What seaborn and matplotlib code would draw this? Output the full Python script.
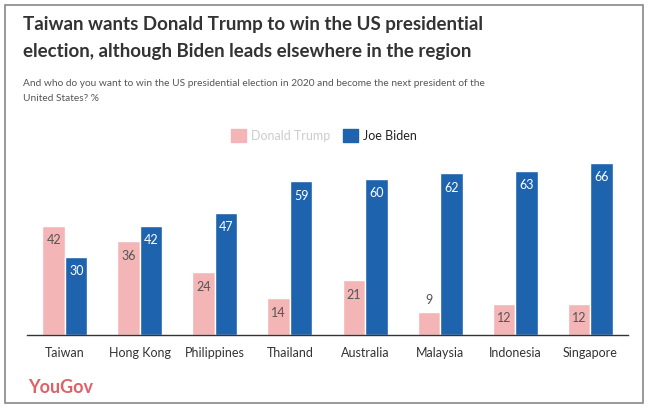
import pandas as pd
import seaborn as sns
import matplotlib.pyplot as plt
from matplotlib.patches import Rectangle

countries = ['Taiwan', 'Hong Kong', 'Philippines', 'Thailand', 'Australia',
             'Malaysia', 'Indonesia', 'Singapore']
trump = [42, 36, 24, 14, 21, 9, 12, 12]
biden = [30, 42, 47, 59, 60, 62, 63, 66]
series = ['Donald Trump', 'Joe Biden']

df = pd.DataFrame({
    'country': countries * 2,
    'candidate': [series[0]] * len(countries) + [series[1]] * len(countries),
    'pct': trump + biden,
})

pink = '#F3B5B5'
blue = '#1E63AE'

sns.set_style('white')
plt.rcParams['font.family'] = ['Lato', 'DejaVu Sans']

fig = plt.figure(figsize=(6.48, 4.08), dpi=100)
ax = fig.add_axes([0.0424, 0.179, 0.926, 0.447])

sns.barplot(data=df, x='country', y='pct', hue='candidate', order=countries,
            hue_order=series, palette=[pink, blue], width=0.6, saturation=1,
            ax=ax, legend=False)

# value labels
for cont, col in zip(ax.containers, ['#555555', 'white']):
    for bar in cont:
        h = bar.get_height()
        x = bar.get_x() + bar.get_width() / 2
        if h < 10:
            ax.annotate(f'{h:.0f}', (x, h), xytext=(0, 4), textcoords='offset points',
                        ha='center', va='bottom', fontsize=9, color='#555555')
        else:
            ax.annotate(f'{h:.0f}', (x, h), xytext=(0, -6), textcoords='offset points',
                        ha='center', va='top', fontsize=9, color=col)

ax.set_xlim(-0.5, 7.5)
ax.set_ylim(0, 70)
ax.set_xlabel('')
ax.set_ylabel('')
ax.set_yticks([])
ax.tick_params(axis='x', length=0, pad=9, labelsize=9, labelcolor='#333333')
for s in ['top', 'right', 'left']:
    ax.spines[s].set_visible(False)
ax.spines['bottom'].set_color('#333333')
ax.spines['bottom'].set_linewidth(1)

# legend
handles = [Rectangle((0, 0), 1, 1, color=pink), Rectangle((0, 0), 1, 1, color=blue)]
leg = fig.legend(handles, series, loc='center', bbox_to_anchor=(0.5, 0.668), ncol=2,
                 frameon=False, fontsize=9, handlelength=1.2, handleheight=1.2,
                 handletextpad=0.4, columnspacing=1.0)
leg.get_texts()[0].set_color('#cccccc')
leg.get_texts()[1].set_color('#222222')

# titles
fig.text(0.036, 0.96, 'Taiwan wants Donald Trump to win the US presidential\n'
         'election, although Biden leads elsewhere in the region',
         fontsize=13.5, fontweight='bold', color='#333333', va='top', linespacing=1.72)
fig.text(0.036, 0.806, 'And who do you want to win the US presidential election in 2020 '
         'and become the next president of the\nUnited States? %',
         fontsize=7.3, color='#555555', va='top', linespacing=1.9)

fig.text(0.043, 0.05, 'YouGov', fontsize=13, fontweight='bold', color='#E06066', va='center')

# outer frame
fig.patches.append(Rectangle((0.008, 0.012), 0.984, 0.975, transform=fig.transFigure,
                             fill=False, edgecolor='#888888', linewidth=1.2))

plt.savefig('out.png', dpi=100)
